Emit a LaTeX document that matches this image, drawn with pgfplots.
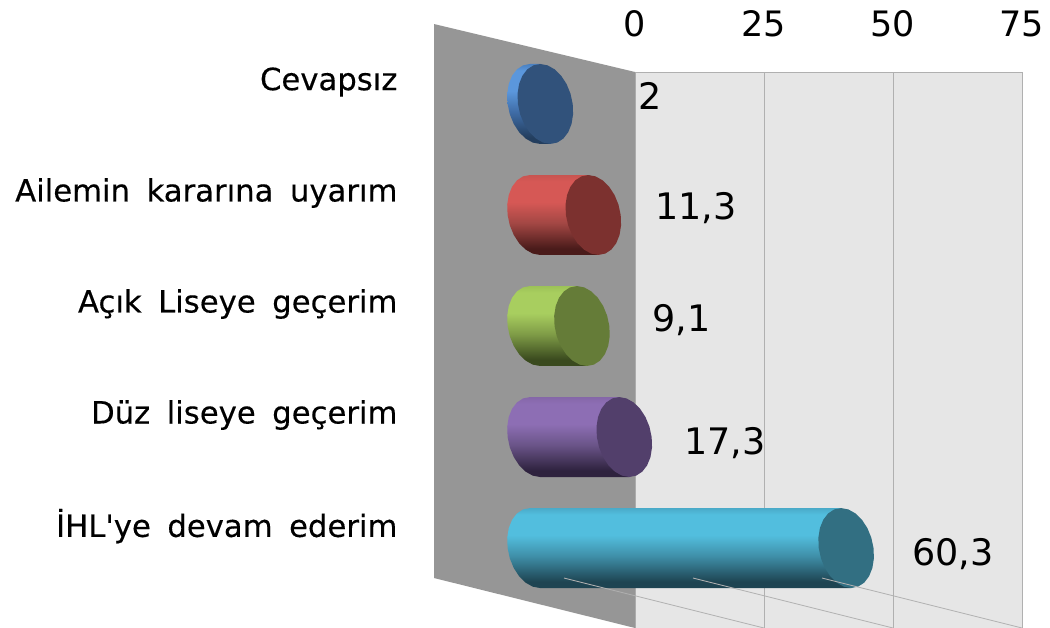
\documentclass[border=0pt]{standalone}
\usepackage{fontspec}
\setmainfont{DejaVu Sans}
\newfontfamily\catfamily[FakeBold=0.3]{DejaVu Sans}
\usepackage{pgfplots}
\usepackage{pgfplotstable}
\pgfplotsset{compat=1.18}

\definecolor{wallback}{HTML}{E6E6E6}
\definecolor{wallside}{HTML}{969696}
\definecolor{gridc}{HTML}{B0B0B0}
\definecolor{capblue}{HTML}{31527B}
\definecolor{capred}{HTML}{7C312F}
\definecolor{capgreen}{HTML}{657C38}
\definecolor{cappurple}{HTML}{523F6B}
\definecolor{capteal}{HTML}{326F82}

\protected\def\apo{\char39 }
\protected\def\catfont{\catfamily\fontsize{30.7}{31}\selectfont\spaceskip=16.5pt\relax}

% vertical gradients of the cylinders (tikz fits the path into 25bp..75bp)
\newcommand{\cylshade}[5]{%
  \definecolor{#1a}{HTML}{#2}\definecolor{#1b}{HTML}{#3}\definecolor{#1c}{HTML}{#4}\definecolor{#1d}{HTML}{#5}%
  \pgfdeclareverticalshading{#1}{100bp}{%
    color(0bp)=(#1d); color(29bp)=(#1d); color(45bp)=(#1c); color(58bp)=(#1b); color(71bp)=(#1b); color(75bp)=(#1a); color(100bp)=(#1a)}}
\cylshade{shblue}{4A80C0}{5B97DC}{3F6CA6}{233E5E}
\cylshade{shred}{C85450}{D65855}{A34744}{4A1B1A}
\cylshade{shgreen}{9CC257}{A8CE5F}{7F9C47}{3A4A1E}
\cylshade{shpurple}{8567A8}{8D6EB4}{6A5488}{2E223E}
\cylshade{shteal}{4AAAC8}{52BEDE}{3F8FA8}{1E4452}

% unit outline of a cylinder: left half of the end ellipse, then the two far corners
\pgfplotstableread{
e c s
0 0 -1
0 -0.259 -0.966
0 -0.5 -0.866
0 -0.707 -0.707
0 -0.866 -0.5
0 -0.966 -0.259
0 -1 0
0 -0.966 0.259
0 -0.866 0.5
0 -0.707 0.707
0 -0.5 0.866
0 -0.259 0.966
0 0 1
1 0 1
1 0 -1
}\cylbody
\pgfplotstableread{
e c s
1 0 -1
1 -0.259 -0.966
1 -0.5 -0.866
1 -0.707 -0.707
1 -0.866 -0.5
1 -0.966 -0.259
1 -1 0
1 -0.966 0.259
1 -0.866 0.5
1 -0.707 0.707
1 -0.5 0.866
1 -0.259 0.966
1 0 1
1 0.259 0.966
1 0.5 0.866
1 0.707 0.707
1 0.866 0.5
1 0.966 0.259
1 1 0
1 0.966 -0.259
1 0.866 -0.5
1 0.707 -0.707
1 0.5 -0.866
1 0.259 -0.966
}\cylcap

% #1 value, #2 row, #3 shading, #4 end colour
\newcommand{\cyl}[4]{%
  \addplot[draw=none, shading=#3] table[
    x expr=\thisrow{e}*#1-19.38+5.31*\thisrow{c}-0.97*\thisrow{s},
    y expr=#2+0.36*\thisrow{s}] {\cylbody} -- cycle;
  \addplot[draw=none, fill=#4] table[
    x expr=\thisrow{e}*#1-19.38+5.31*\thisrow{c}-0.97*\thisrow{s},
    y expr=#2+0.36*\thisrow{s}] {\cylcap} -- cycle;
}

\begin{document}
\begin{tikzpicture}[x=1pt,y=1pt]
\begin{axis}[
  at={(635pt,0pt)}, anchor=south west,
  scale only axis, width=387pt, height=556pt,
  xmin=0, xmax=75, ymin=-0.72, ymax=4.288,
  clip=false,
  axis background/.style={fill=wallback},
  axis line style={draw=gridc, line width=0.8pt},
  xtick={0,25,50,75},
  xticklabel pos=upper,
  xmajorgrids, grid style={gridc, line width=0.8pt},
  ytick={0,1,2,3,4},
  yticklabels={İHL\apo ye devam ederim, Düz liseye geçerim, Açık Liseye geçerim, Ailemin kararına uyarım, Cevapsız},
  major tick length=0pt,
  /pgf/number format/assume math mode=true,
  xticklabel style={font=\fontsize{35}{35}\selectfont, yshift=31pt},
  yticklabel style={font=\catfont, anchor=east, xshift=-234pt, yshift=22pt},
]
\addplot[draw=none, fill=wallside] coordinates {(-38.95,4.72) (0,4.288) (0,-0.72) (-38.95,-0.27)} -- cycle;

\cyl{2}{4}{shblue}{capblue}
\cyl{11.3}{3}{shred}{capred}
\cyl{9.1}{2}{shgreen}{capgreen}
\cyl{17.3}{1}{shpurple}{cappurple}
\cyl{60.3}{0}{shteal}{capteal}

% floor lines
\addplot[gridc, line width=0.8pt] coordinates {(-13.76,-0.27) (25,-0.72)};
\addplot[gridc, line width=0.8pt] coordinates {(11.24,-0.27) (50,-0.72)};
\addplot[gridc, line width=0.8pt] coordinates {(36.24,-0.27) (75,-0.72)};

\tikzset{val/.style={font=\fontsize{36.5}{37}\selectfont, inner sep=0pt, anchor=center}}
\node[val] at (axis cs:2.9,4.07) {2};
\node[val] at (axis cs:11.8,3.06) {11,3};
\node[val] at (axis cs:9.0,2.05) {9,1};
\node[val] at (axis cs:17.4,0.95) {17,3};
\node[val] at (axis cs:61.6,-0.05) {60,3};
\end{axis}
\pgfresetboundingbox
\path[use as bounding box] (0pt,0pt) rectangle (1050pt,628pt);
\end{tikzpicture}
\end{document}
